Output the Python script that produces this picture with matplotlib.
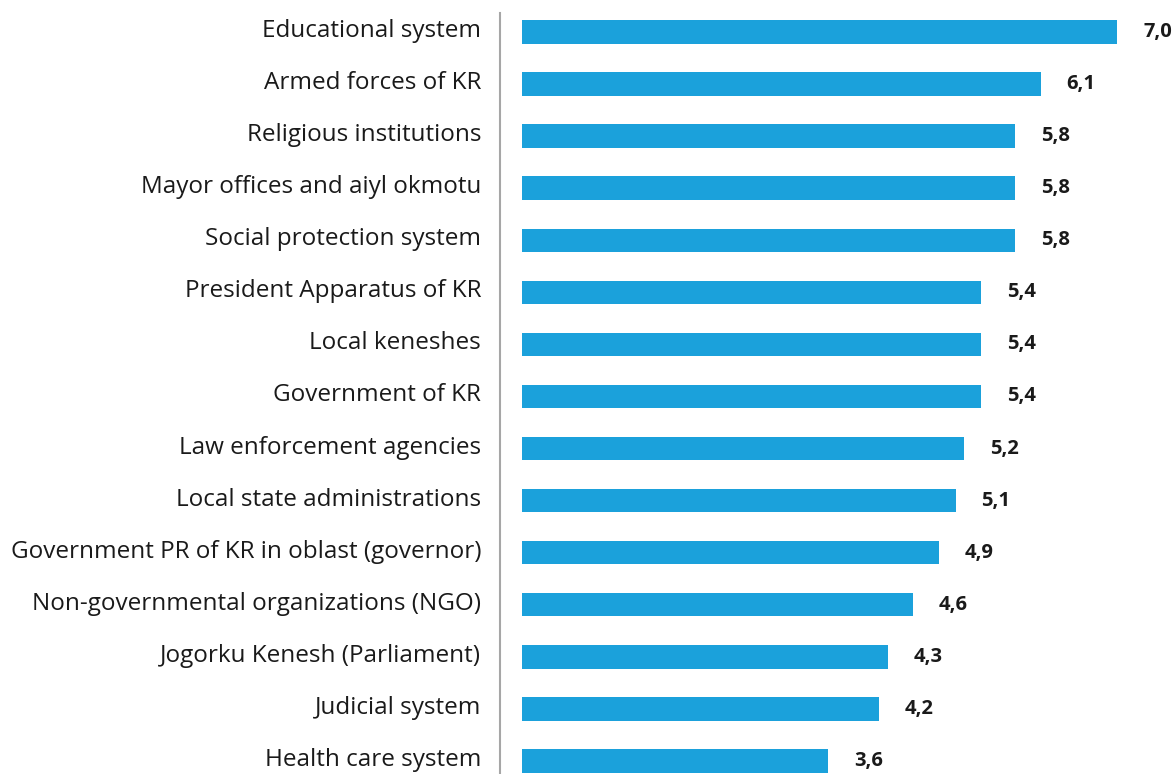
import matplotlib
matplotlib.use("Agg")
import matplotlib.pyplot as plt

categories = [
    "Educational system",
    "Armed forces of KR",
    "Religious institutions",
    "Mayor offices and aiyl okmotu",
    "Social protection system",
    "President Apparatus of KR",
    "Local keneshes",
    "Government of KR",
    "Law enforcement agencies",
    "Local state administrations",
    "Government PR of KR in oblast (governor)",
    "Non-governmental organizations (NGO)",
    "Jogorku Kenesh (Parliament)",
    "Judicial system",
    "Health care system",
]
values = [7.0, 6.1, 5.8, 5.8, 5.8, 5.4, 5.4, 5.4, 5.2, 5.1, 4.9, 4.6, 4.3, 4.2, 3.6]

BAR_COLOR = "#1BA1DB"
W, H = 1173, 774
ZERO_PX = 522
SCALE = 85.0
FIRST_Y, STEP = 32, 52.07

plt.rcParams["font.family"] = ["Open Sans", "DejaVu Sans"]

fig = plt.figure(figsize=(W / 100, H / 100), dpi=100)
ax = fig.add_axes([0, 0, 1, 1])
ax.set_xlim(-ZERO_PX / SCALE, (W - ZERO_PX) / SCALE)
ax.set_ylim((H - FIRST_Y) / STEP, -FIRST_Y / STEP)
ax.axis("off")

ypos = list(range(len(categories)))
ax.barh(ypos, values, height=0.45, color=BAR_COLOR)

# grey separator line left of the bars
line_x = -22 / SCALE
ax.plot([line_x, line_x], [(H - FIRST_Y) / STEP, (13 - FIRST_Y) / STEP],
        color="#A6A6A6", lw=1.5)

for y, cat, v in zip(ypos, categories, values):
    ax.text(-41 / SCALE, y - 0.02, cat, ha="right", va="center", fontsize=17.5, color="#1a1a1a")
    ax.text(v + 26 / SCALE, y, f"{v:.1f}".replace(".", ","), ha="left", va="center",
            fontsize=14.5, fontweight="bold", color="#1a1a1a")

fig.savefig("out.png", dpi=100)
